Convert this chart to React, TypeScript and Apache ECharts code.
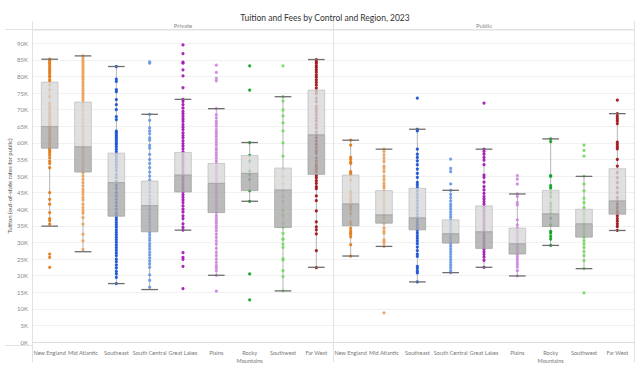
import React, { useEffect, useRef } from "react";
import * as echarts from "echarts";

const categories = ["New England", "Mid Atlantic", "Southeast", "South Central", "Great Lakes", "Plains", "Rocky Mountains", "Southwest", "Far West"];
const regionColors = ["#e47d1c", "#eba45f", "#1c55d8", "#6a9ae6", "#a81bb5", "#d08ae0", "#10a524", "#7bd96a", "#a3161e"];
const yTicksK = [0, 5, 10, 15, 20, 25, 30, 35, 40, 45, 50, 55, 60, 65, 70, 75, 80, 85, 90];

// box stats in $K: [low whisker, Q1, median, Q3, high whisker]
const privateBox = [
  [34.9, 58.4, 64.9, 78.3, 85.2],
  [27.2, 51.2, 58.8, 72.3, 86.2],
  [17.6, 37.9, 48.0, 56.9, 83.0],
  [15.8, 33.2, 41.1, 48.5, 68.6],
  [33.7, 45.2, 50.3, 57.1, 73.1],
  [20.1, 39.0, 47.8, 53.8, 70.3],
  [42.4, 45.6, 50.8, 56.2, 60.1],
  [15.4, 34.5, 45.8, 52.4, 73.9],
  [22.5, 50.5, 62.4, 75.9, 85.1],
];
const publicBox = [
  [25.9, 35.0, 41.6, 50.3, 60.8],
  [28.8, 35.8, 38.3, 45.6, 58.1],
  [18.1, 33.8, 37.4, 46.3, 64.1],
  [20.9, 29.8, 32.6, 36.8, 45.7],
  [22.5, 28.2, 33.2, 41.0, 58.1],
  [19.9, 26.5, 29.6, 34.3, 44.6],
  [29.1, 34.8, 38.6, 45.7, 61.2],
  [22.1, 31.6, 35.6, 40.0, 49.9],
  [33.6, 38.5, 42.5, 52.2, 68.8],
];

// individual institutions, $K
const privNewEngland = [85.2, 84.8, 84.3, 83.8, 83.2, 82.6, 82.1, 81.5, 81, 80.3, 79.8, 79, 78.5, 77.5, 76, 74, 72, 71.2, 70.5, 69.8, 69, 68.5, 67.9, 67.2, 66.5, 66, 65.4, 64.8, 64.2, 63.6, 63, 62.2, 61.5, 61, 60.4, 59.8, 59.2, 58.6, 58.1, 57.5, 57, 56.3, 55.5, 54.5, 53.8, 52.5, 45, 43, 41.5, 39, 37.2, 36.6, 35.5, 26.5, 25.5, 22.5];
const privMidAtlantic = [86.2, 85.7, 85.1, 84.5, 84, 83.4, 82.8, 82.2, 81.6, 81, 80.3, 79.7, 79.1, 78.4, 77.8, 77.1, 76.4, 75.7, 75, 74.3, 73.6, 72.8, 72, 71, 69.8, 68.5, 67.2, 66, 65, 64, 63, 62.2, 61.4, 60.6, 59.8, 59, 58.3, 57.5, 56.8, 56, 55.2, 54.3, 53.5, 52.6, 51.8, 51, 50, 49, 48, 47, 46, 45.3, 44.5, 43.5, 42.8, 41.5, 40.5, 39.6, 38.8, 37.5, 35.5, 32.5, 30.5, 27.8];
const privSoutheast = [83, 79.2, 78.5, 76, 75.4, 73, 71.5, 70, 67.9, 67, 63.5, 63, 62.4, 61.8, 61.2, 60.6, 60, 59.5, 58.8, 58, 57.3, 56.5, 55.8, 55, 54.2, 53.4, 52.6, 51.6, 50.5, 49.5, 48.4, 47.2, 46.2, 45, 44, 43, 42, 41, 40, 39, 38.3, 37.5, 36.8, 36, 35.3, 34.6, 33.8, 33, 32.3, 31.5, 30.8, 30, 29.2, 28.4, 27.6, 26.8, 26, 25, 24.2, 23.2, 22.3, 21.3, 20.5, 19.5, 17.6];
const privSouthCentral = [84.4, 84, 68.6, 66.8, 64.5, 63.6, 62.8, 61.5, 60.8, 59.2, 58.4, 56.5, 55, 53.8, 52.5, 51.2, 50, 48.8, 47.5, 46.4, 45.2, 44, 43, 42, 41, 40, 39, 38, 37, 36, 35, 34, 33, 32.2, 31.4, 30.6, 29.6, 28.8, 28, 27, 26.2, 25.3, 24.4, 23.5, 22.5, 20.2, 18.6, 16.5];
const privGreatLakes = [89.5, 86.9, 84.3, 84, 82, 80.2, 76.6, 73.1, 72.5, 71.5, 70.5, 69.5, 68.8, 68, 67.2, 66.5, 65.5, 64.7, 64, 63, 62.2, 61.5, 60.6, 59.8, 59, 58.2, 57.3, 56.5, 55.6, 54.8, 54, 53.2, 52.5, 51.6, 50.8, 50, 49.2, 48.5, 47.6, 46.8, 46, 45.2, 44.4, 43.6, 42.8, 42, 41, 40, 39.2, 38, 37.2, 35.6, 34.5, 33.7, 26.9, 25.5, 24.9, 22.8, 16.1];
const privPlains = [83.4, 81.2, 79.4, 78.7, 70.3, 68.5, 67.5, 66.5, 65.8, 65, 64, 63.2, 62.5, 61.8, 61, 60.2, 59.4, 58.5, 57.8, 57, 56.2, 55.4, 54.6, 53.8, 52.8, 52, 51, 50.2, 49.4, 48.5, 47.6, 46.8, 46, 45, 44.2, 43.4, 42.5, 41.6, 40.8, 40, 39, 38, 37.2, 36.5, 35.8, 35, 34.3, 33.5, 32.5, 31.5, 30.5, 29.5, 28.2, 27, 26, 25, 24, 23, 22.4, 21.5, 20.1, 15.3];
const privRocky = [83.2, 75.9, 60.1, 56.2, 54.5, 51.5, 50.5, 49, 45.6, 42.4, 20.5, 12.7];
const privSouthwest = [83.2, 73.9, 72.6, 69.9, 68.1, 66, 63.6, 60, 56, 52, 49.8, 47.6, 45.8, 43.7, 42.4, 39.7, 38.1, 35.9, 34.5, 32.7, 31.1, 30.9, 29.5, 28.5, 25.1, 24.7, 21.5, 19.7, 15.4];
const privFarWest = [85.1, 84.5, 84, 83.3, 82.7, 82, 81.3, 80.5, 79.8, 79, 78.2, 77.4, 76.5, 75.5, 74.8, 73.5, 72.4, 71, 70.2, 69.4, 68.5, 67.5, 66.6, 65.5, 64.5, 63.3, 62.4, 61.5, 60.5, 59.5, 58.5, 57.6, 56.8, 55.5, 54.5, 53.5, 52.8, 52, 51.2, 50.2, 49.5, 48.6, 47.8, 46.8, 46.2, 44, 42.6, 39.5, 36.2, 34.7, 33.8, 32.6, 27.5, 22.4];

const pubNewEngland = [60.8, 59.3, 55.6, 55.0, 54.2, 53.8, 51.3, 50.8, 50.3, 48.8, 45.3, 44.6, 43.8, 43.0, 42.2, 41.2, 40.7, 39.9, 38.7, 36.2, 35.5, 34.2, 33.5, 32.9, 32.4, 31.7, 29.3, 25.9];
const pubMidAtlantic = [58.1, 57.4, 56.4, 55.4, 54.4, 52.9, 52.4, 51.4, 49.9, 48.9, 47.9, 47.1, 46.4, 45.3, 44.3, 43.3, 42.3, 41.3, 40.3, 39.3, 38.3, 37.3, 35.8, 34.3, 33.3, 32.8, 30.8, 30.3, 29.8, 28.8, 8.8];
const pubSoutheast = [73.5, 64.1, 63.6, 58.1, 56.6, 55.6, 54.6, 53.4, 52.1, 50.8, 49.6, 48.1, 47.4, 46.6, 45.5, 44.5, 43.5, 42.5, 41.5, 40.5, 39.5, 38.5, 37.6, 36.8, 36, 35.2, 34.4, 33.6, 32.8, 32, 31.2, 30.4, 29.6, 28.6, 27.5, 26.5, 25.8, 22.8, 22.2, 21.4, 20.8, 18.1];
const pubSouthCentral = [55.1, 52.3, 51.3, 47.6, 45.7, 44.5, 43.5, 42.5, 41.5, 40.8, 40, 39.2, 38.4, 37.6, 36.8, 36, 35.2, 34.4, 33.6, 32.8, 32, 31.2, 30.4, 29.6, 28.8, 28, 27.2, 26.4, 25.6, 24.8, 24, 23.2, 22.4, 21.5, 20.9];
const pubGreatLakes = [72, 58.1, 57.4, 56.6, 55.6, 54.8, 53.4, 50.3, 49.6, 48.2, 46.8, 45.8, 44.8, 43.8, 43.1, 42.3, 41.5, 40.7, 39.9, 39.1, 38.3, 37.5, 36.8, 36, 35.2, 34.4, 33.6, 32.8, 32, 31.2, 30.4, 29.6, 28.8, 28, 27.2, 26.4, 25.6, 24.6, 22.5];
const pubPlains = [50.1, 49.1, 47.6, 44.6, 43.8, 42, 41.3, 36.8, 35.3, 34.3, 33.5, 32.8, 32, 31.3, 30.6, 29.9, 29.2, 28.5, 27.8, 27.1, 26.4, 25.7, 25, 24.2, 23.4, 22.6, 21.5, 19.9];
const pubRocky = [61.2, 60.4, 50.1, 49.9, 47.1, 46.4, 44.9, 43.8, 41.8, 40.8, 39.8, 38.8, 37.3, 35.3, 33.3, 32.8, 31.8, 31, 29.1];
const pubSouthwest = [59.3, 57.7, 56, 49.9, 47.6, 45.5, 43.3, 42, 40.5, 39.5, 38.5, 37.5, 36.5, 35.8, 35, 34.2, 33.4, 32.5, 31.5, 30.5, 29.5, 28.5, 27.2, 26, 24.5, 22.1, 14.8];
const pubFarWest = [72.9, 68.8, 68, 67.3, 66.6, 65.8, 60.2, 59.5, 58.8, 58.2, 55, 53, 51, 49.5, 48, 46.5, 45, 43.5, 42.5, 41.5, 40.5, 39.5, 38.8, 38, 37.2, 36.4, 35.6, 34.8, 33.6];

const privatePoints = [privNewEngland, privMidAtlantic, privSoutheast, privSouthCentral, privGreatLakes, privPlains, privRocky, privSouthwest, privFarWest];
const publicPoints = [pubNewEngland, pubMidAtlantic, pubSoutheast, pubSouthCentral, pubGreatLakes, pubPlains, pubRocky, pubSouthwest, pubFarWest];

const FONT = "Lato, 'Noto Sans', sans-serif";

function buildSeries(gridIdx: number, points: number[][], boxes: number[][]) {
  const series: any[] = [];
  series.push({
    type: "custom",
    xAxisIndex: gridIdx,
    yAxisIndex: gridIdx,
    z: 2,
    silent: true,
    data: boxes.map((b, i) => [i, b[0], b[4]]),
    renderItem: (params: any, api: any) => {
      const x = api.value(0);
      const a = api.coord([x, api.value(1)]);
      const b = api.coord([x, api.value(2)]);
      return {
        type: "line",
        shape: { x1: a[0], y1: a[1], x2: b[0], y2: b[1] },
        style: { stroke: "#b5b5b5", lineWidth: 1 },
      };
    },
  });
  points.forEach((arr, i) => {
    series.push({
      type: "scatter",
      xAxisIndex: gridIdx,
      yAxisIndex: gridIdx,
      z: 3,
      symbol: "circle",
      symbolSize: 3.2,
      itemStyle: { color: regionColors[i], opacity: 0.95 },
      data: arr.map((v) => [i, v]),
    });
  });
  series.push({
    type: "custom",
    xAxisIndex: gridIdx,
    yAxisIndex: gridIdx,
    z: 4,
    silent: true,
    data: boxes.map((b, i) => [i, ...b]),
    encode: { x: 0, y: [1, 2, 3, 4, 5] },
    renderItem: (params: any, api: any) => {
      const x = api.value(0);
      const pLow = api.coord([x, api.value(1)]);
      const pQ1 = api.coord([x, api.value(2)]);
      const pMed = api.coord([x, api.value(3)]);
      const pQ3 = api.coord([x, api.value(4)]);
      const pHigh = api.coord([x, api.value(5)]);
      const bw = api.size([1, 0])[0] * 0.5;
      const cx = pLow[0];
      const l = cx - bw / 2;
      return {
        type: "group",
        children: [
          {
            type: "rect",
            shape: { x: l, y: pQ3[1], width: bw, height: pMed[1] - pQ3[1] },
            style: { fill: "rgba(216,216,216,0.8)", stroke: "rgba(190,190,190,0.9)", lineWidth: 0.8 },
          },
          {
            type: "rect",
            shape: { x: l, y: pMed[1], width: bw, height: pQ1[1] - pMed[1] },
            style: { fill: "rgba(170,170,170,0.8)", stroke: "rgba(160,160,160,0.9)", lineWidth: 0.8 },
          },
          {
            type: "line",
            shape: { x1: l, y1: pHigh[1], x2: l + bw, y2: pHigh[1] },
            style: { stroke: "#6e6e6e", lineWidth: 1.3 },
          },
          {
            type: "line",
            shape: { x1: l, y1: pLow[1], x2: l + bw, y2: pLow[1] },
            style: { stroke: "#6e6e6e", lineWidth: 1.3 },
          },
        ],
      };
    },
  });
  return series;
}

export default function App() {
  const ref = useRef<HTMLDivElement>(null);
  useEffect(() => {
    if (!ref.current) return;
    const chart = echarts.init(ref.current, undefined, { renderer: "svg" });
    const gridTop = 30;
    const gridBottomY = 342;
    const grids = [
      { left: 33, top: gridTop, width: 300, height: gridBottomY - gridTop },
      { left: 334, top: gridTop, width: 300, height: gridBottomY - gridTop },
    ];
    const xAxes = grids.map((g, i) => ({
      type: "category",
      gridIndex: i,
      data: categories,
      offset: 3,
      axisLine: { show: true, lineStyle: { color: "#dcdcdc" } },
      axisTick: { show: false },
      axisLabel: {
        interval: 0,
        fontSize: 5.6,
        color: "#777",
        fontFamily: FONT,
        margin: 4,
        lineHeight: 7.5,
        formatter: (v: string) => (v === "Rocky Mountains" ? "Rocky\nMountains" : v),
      },
      splitLine: { show: false },
    }));
    const yAxes = grids.map((g, i) => ({
      type: "value",
      gridIndex: i,
      min: 0,
      max: 94,
      interval: 5,
      axisLine: { show: false },
      axisTick: { show: false },
      axisLabel: {
        show: i === 0,
        fontSize: 6,
        color: "#888",
        fontFamily: FONT,
        margin: 5,
        formatter: (v: number) => (yTicksK.indexOf(v) >= 0 ? v + "K" : ""),
      },
      splitLine: { show: true, lineStyle: { color: "#f1f1f1", width: 1 } },
      name: i === 0 ? "Tuition (out-of-state rates for public)" : "",
      nameLocation: "middle",
      nameGap: 21,
      nameRotate: 90,
      nameTextStyle: { fontSize: 6, color: "#555", fontFamily: FONT },
    }));
    const lineStyle = { stroke: "#e2e2e2", lineWidth: 1 };
    chart.setOption({
      animation: false,
      title: {
        text: "Tuition and Fees by Control and Region, 2023",
        left: 320,
        textAlign: "center",
        top: 8,
        textStyle: { fontSize: 8.5, fontWeight: "normal", color: "#333", fontFamily: FONT },
      },
      grid: grids,
      xAxis: xAxes,
      yAxis: yAxes,
      series: [...buildSeries(0, privatePoints, privateBox), ...buildSeries(1, publicPoints, publicBox)],
      graphic: [
        { type: "line", shape: { x1: 5, y1: 29.5, x2: 634, y2: 29.5 }, style: lineStyle, silent: true },
        { type: "line", shape: { x1: 32.5, y1: 21, x2: 32.5, y2: 362 }, style: lineStyle, silent: true },
        { type: "line", shape: { x1: 333.5, y1: 21, x2: 333.5, y2: 362 }, style: lineStyle, silent: true },
        { type: "line", shape: { x1: 634.5, y1: 21, x2: 634.5, y2: 362 }, style: lineStyle, silent: true },
        { type: "line", shape: { x1: 5, y1: 345.5, x2: 33, y2: 345.5 }, style: lineStyle, silent: true },
        { type: "text", x: 183, y: 25, style: { text: "Private", fontSize: 6, fill: "#888", fontFamily: FONT, align: "center", verticalAlign: "middle" }, silent: true },
        { type: "text", x: 484, y: 25, style: { text: "Public", fontSize: 6, fill: "#888", fontFamily: FONT, align: "center", verticalAlign: "middle" }, silent: true },
      ],
    });
    return () => chart.dispose();
  }, []);
  return <div ref={ref} style={{ position: "fixed", left: 0, top: 0, width: 639, height: 366, background: "#fff" }} />;
}
